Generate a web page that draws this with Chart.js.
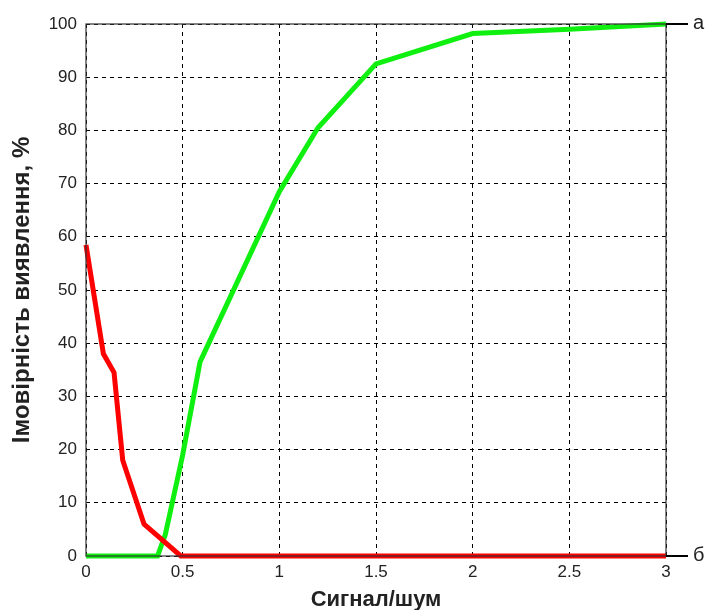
<!DOCTYPE html>
<html>
<head>
<meta charset="utf-8">
<script src="https://cdn.jsdelivr.net/npm/chart.js@4"></script>
<style>
  html, body { margin: 0; padding: 0; background: #fff; }
  #wrap { width: 706px; height: 610px; position: relative; }
</style>
</head>
<body>
<div id="wrap"><canvas id="c" width="706" height="610"></canvas></div>
<script>
// Signal-to-noise ratio and detection probability (%)
const redX   = [0, 0.09, 0.145, 0.19, 0.3, 0.49, 3];
const redY   = [58.5, 38, 34.5, 18, 6, 0, 0];
const greenX = [0, 0.37, 0.41, 0.5, 0.59, 1.0, 1.2, 1.5, 2.0, 2.5, 3];
const greenY = [0, 0, 4, 19, 36.5, 68.5, 80.5, 92.5, 98.2, 99, 100];
const curveLabels = ['а', 'б'];
const xTitle = 'Сигнал/шум';
const yTitle = 'Імовірність виявлення, %';

const toPoints = (xs, ys) => xs.map((x, i) => ({ x: x, y: ys[i] }));

const FONT = '"Liberation Sans", Arial, sans-serif';

const framePlugin = {
  id: 'frame',
  afterDraw(chart) {
    const { ctx, chartArea: a, scales } = chart;
    ctx.save();
    ctx.strokeStyle = '#333';
    ctx.lineWidth = 1.2;
    ctx.setLineDash([]);
    ctx.strokeRect(a.left, a.top, a.right - a.left, a.bottom - a.top);
    // curve markers on the right side
    const yTop = scales.y.getPixelForValue(100);
    const yBot = scales.y.getPixelForValue(0);
    ctx.strokeStyle = '#000';
    ctx.lineWidth = 2;
    ctx.beginPath();
    ctx.moveTo(a.right, yTop); ctx.lineTo(a.right + 22, yTop);
    ctx.moveTo(a.right, yBot); ctx.lineTo(a.right + 22, yBot);
    ctx.stroke();
    ctx.fillStyle = '#222';
    ctx.font = '20px ' + FONT;
    ctx.textAlign = 'left';
    ctx.textBaseline = 'middle';
    ctx.fillText(curveLabels[0], a.right + 27, yTop - 1);
    ctx.fillText(curveLabels[1], a.right + 27, yBot - 1);
    ctx.restore();
  }
};

new Chart(document.getElementById('c'), {
  type: 'line',
  data: {
    datasets: [
      {
        data: toPoints(redX, redY),
        borderColor: '#ff0000',
        borderWidth: 5,
        pointRadius: 0,
        tension: 0,
        clip: false
      },
      {
        data: toPoints(greenX, greenY),
        borderColor: '#10f010',
        borderWidth: 5,
        pointRadius: 0,
        tension: 0,
        clip: false
      }
    ]
  },
  options: {
    responsive: false,
    animation: false,
    layout: { padding: { top: 24, right: 40, left: 0, bottom: 0 } },
    plugins: { legend: { display: false }, tooltip: { enabled: false } },
    scales: {
      x: {
        type: 'linear',
        min: 0, max: 3,
        afterFit(s) { s.height = 54; },
        ticks: {
          stepSize: 0.5,
          color: '#222',
          font: { family: FONT, size: 17 },
          padding: 6,
          maxRotation: 0,
          callback: v => String(v)
        },
        grid: { color: '#000', lineWidth: 1, drawTicks: false },
        border: { display: false, dash: [4, 4] },
        title: {
          display: true,
          text: xTitle,
          color: '#222',
          font: { family: FONT, size: 22, weight: 'bold' },
          padding: { top: 0, bottom: -3 }
        }
      },
      y: {
        type: 'linear',
        min: 0, max: 100,
        afterFit(s) { s.width = 86; },
        ticks: {
          stepSize: 10,
          color: '#222',
          font: { family: FONT, size: 17 },
          padding: 9
        },
        grid: { color: '#000', lineWidth: 1, drawTicks: false },
        border: { display: false, dash: [4, 4] },
        title: {
          display: true,
          text: yTitle,
          color: '#222',
          font: { family: FONT, size: 24, weight: 'bold' },
          padding: { top: 8, bottom: 0 }
        }
      }
    }
  },
  plugins: [framePlugin]
});
</script>
</body>
</html>
